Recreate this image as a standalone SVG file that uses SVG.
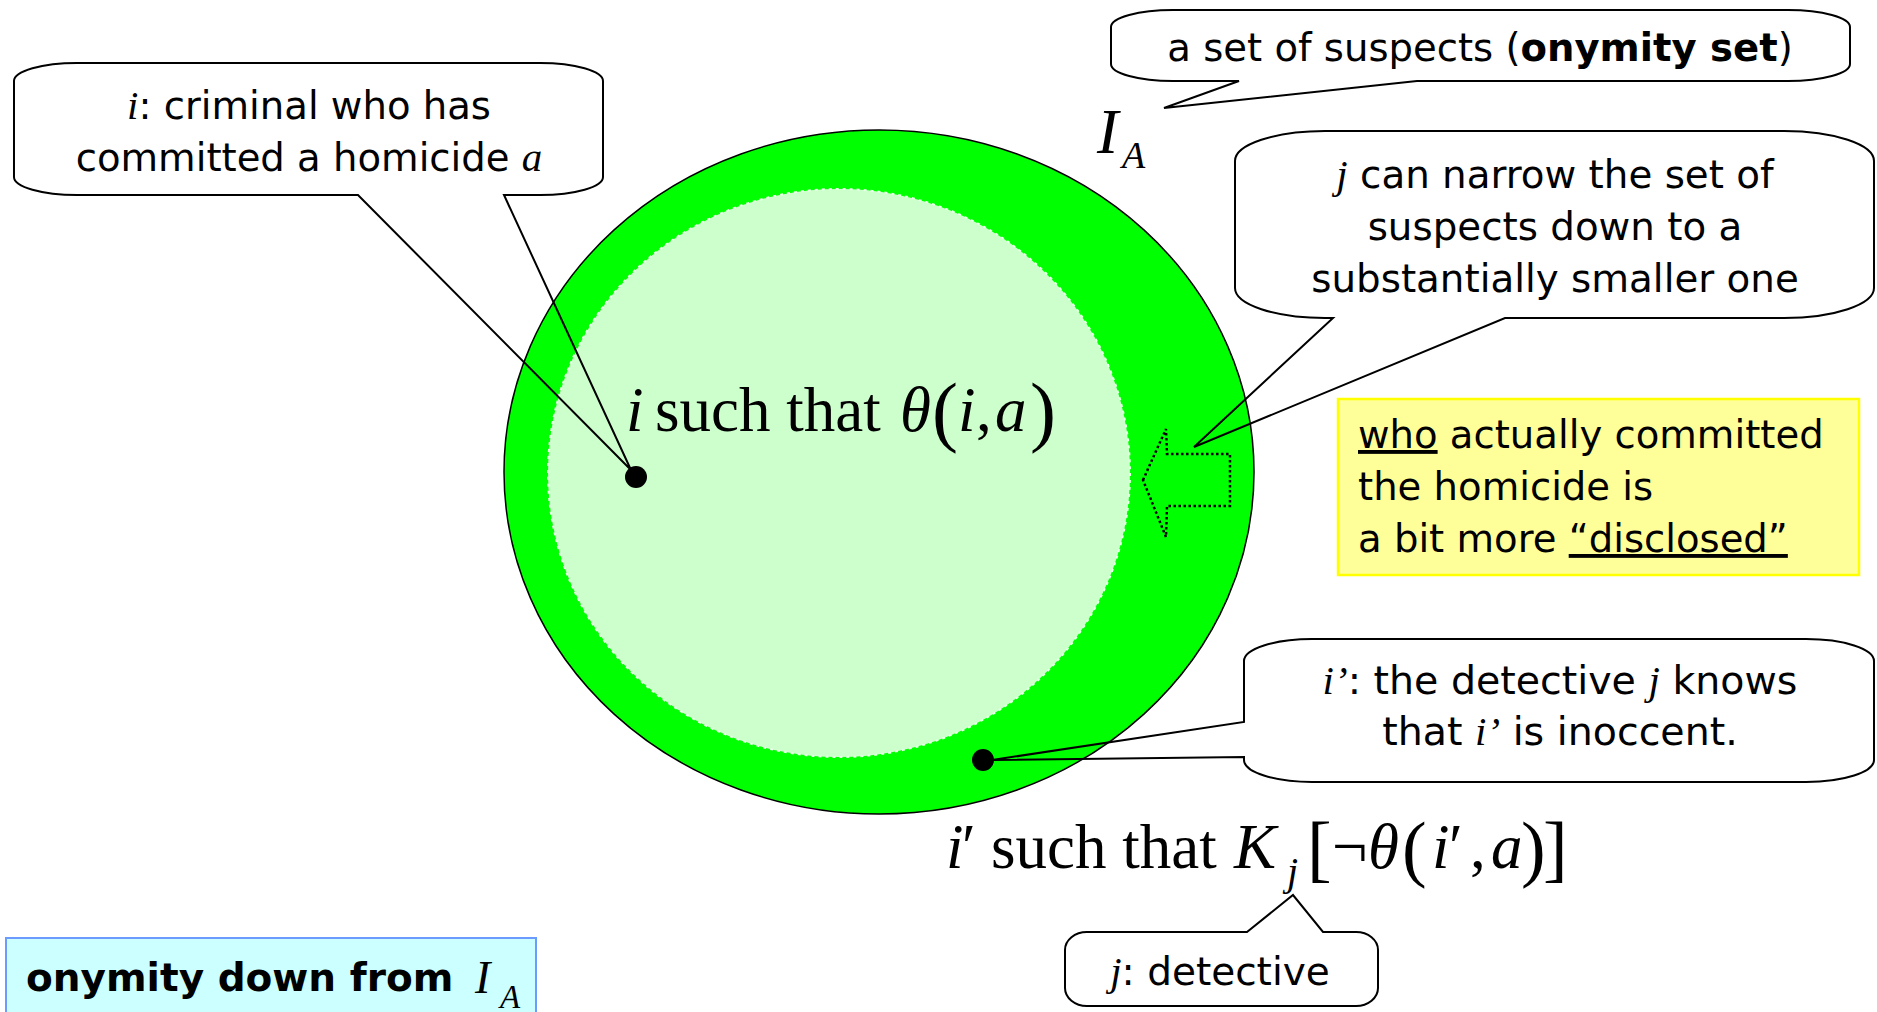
<svg xmlns="http://www.w3.org/2000/svg" width="1877" height="1012" viewBox="0 0 1877 1012">
<style>
.call{fill:none;stroke:#000;stroke-width:2;stroke-linejoin:miter}
.t{font-family:"Comic Sans MS","DejaVu Sans",sans-serif;fill:#000}
.m{font-family:"Liberation Serif","Times New Roman",serif;font-style:italic}
.f{font-family:"Liberation Serif","Times New Roman",serif;fill:#000}
.b{font-weight:bold}
.u{text-decoration:underline}
</style>
<rect width="1877" height="1012" fill="#fff"/>
<g id="onymity-set">
<ellipse cx="879" cy="472" rx="375" ry="342" fill="#00ff00" stroke="#000" stroke-width="1.5"/>
<ellipse cx="839" cy="473" rx="291" ry="284" fill="#ccffcc" stroke="#e6ffe6" stroke-width="2" stroke-dasharray="3 4"/>
</g>
<g id="narrow-arrow">
<polygon points="1143,480 1166,429 1167,454 1230,454 1230,506 1167,506 1166,537" fill="none" stroke="#000" stroke-width="2.5" stroke-dasharray="2.5 2.5"/>
</g>
<g id="formula-i">
<text class="f" y="431" font-size="63"><tspan x="626" class="m">i</tspan><tspan x="655">such that</tspan><tspan x="900" class="m">θ</tspan><tspan x="932" font-size="78" dy="6">(</tspan><tspan x="958" class="m" dy="-6">i</tspan><tspan x="976">,</tspan><tspan x="995" class="m">a</tspan><tspan x="1030" font-size="78" dy="6">)</tspan></text>
</g>
<g id="formula-i-prime">
<text class="f" y="868" font-size="63"><tspan x="946" class="m">i</tspan><tspan x="962">′</tspan><tspan x="991">such that</tspan><tspan x="1234" class="m">K</tspan><tspan x="1287" class="m" font-size="40" dy="17">j</tspan><tspan x="1307" font-size="74" dy="-12">[</tspan><tspan x="1332" dy="-5">¬</tspan><tspan x="1368" class="m">θ</tspan><tspan x="1402" font-size="74" dy="5">(</tspan><tspan x="1432" class="m" dy="-5">i</tspan><tspan x="1449">′</tspan><tspan x="1470">,</tspan><tspan x="1491" class="m">a</tspan><tspan x="1521" font-size="74" dy="5">)</tspan><tspan x="1543" font-size="74">]</tspan></text>
</g>
<g id="label-IA">
<text class="f m" x="1097" y="153" font-size="64">I</text>
<text class="f m" x="1122" y="168" font-size="38">A</text>
</g>
<g id="dot-i"><circle cx="636" cy="477" r="11" fill="#000"/></g>
<g id="dot-i-prime"><circle cx="983" cy="760" r="11" fill="#000"/></g>
<g id="callout-criminal">
<path class="call" d="M77,63 H540 A63,18 0 0 1 603,81 V177 A63,18 0 0 1 540,195 H504 L631,470 L358,195 H77 A63,18 0 0 1 14,177 V81 A63,18 0 0 1 77,63 Z"/>
<text class="t" font-size="38.6" text-anchor="middle"><tspan x="309" y="119"><tspan class="m" font-size="41">i</tspan>: criminal who has</tspan><tspan x="309" y="171">committed a homicide <tspan class="m" font-size="41">a</tspan></tspan></text>
</g>
<g id="callout-suspects">
<path class="call" d="M1173,10 H1788 A62,17 0 0 1 1850,27 V64 A62,17 0 0 1 1788,81 H1417 L1164,108 L1239,81 H1173 A62,17 0 0 1 1111,64 V27 A62,17 0 0 1 1173,10 Z"/>
<text class="t" font-size="38.6" x="1480" y="61" text-anchor="middle">a set of suspects (<tspan class="b">onymity set</tspan>)</text>
</g>
<g id="callout-narrow">
<path class="call" d="M1325,131 H1784 A90,30 0 0 1 1874,161 V288 A90,30 0 0 1 1784,318 H1505 L1194,447 L1333,318 H1325 A90,30 0 0 1 1235,288 V161 A90,30 0 0 1 1325,131 Z"/>
<text class="t" font-size="38.8" text-anchor="middle"><tspan x="1555" y="188"><tspan class="m" font-size="41">j</tspan> can narrow the set of</tspan><tspan x="1555" y="240">suspects down to a</tspan><tspan x="1555" y="292">substantially smaller one</tspan></text>
</g>
<g id="note-disclosed">
<rect x="1338" y="399" width="521" height="176" fill="#ffff99" stroke="#ffff00" stroke-width="2.5"/>
<text class="t" font-size="38.6"><tspan x="1358" y="448"><tspan class="u">who</tspan> actually committed</tspan><tspan x="1358" y="500">the homicide is</tspan><tspan x="1358" y="552">a bit more <tspan class="u">“disclosed”</tspan></tspan></text>
</g>
<g id="callout-innocent">
<path class="call" d="M1312,639 H1806 A68,22 0 0 1 1874,661 V760 A68,22 0 0 1 1806,782 H1312 A68,22 0 0 1 1244,760 V757 L992,760 L1244,722 V661 A68,22 0 0 1 1312,639 Z"/>
<text class="t" font-size="39.5" text-anchor="middle"><tspan x="1560" y="694"><tspan class="m" font-size="41">i’</tspan>: the detective <tspan class="m" font-size="41">j</tspan> knows</tspan><tspan x="1560" y="745">that <tspan class="m" font-size="41">i’</tspan> is inoccent.</tspan></text>
</g>
<g id="callout-detective">
<path class="call" d="M1087,932 H1247 L1293,895 L1323,932 H1356 A22,18 0 0 1 1378,950 V988 A22,18 0 0 1 1356,1006 H1087 A22,18 0 0 1 1065,988 V950 A22,18 0 0 1 1087,932 Z"/>
<text class="t" font-size="39" x="1220" y="985" text-anchor="middle"><tspan class="m" font-size="41">j</tspan>: detective</text>
</g>
<g id="title-box">
<rect x="6" y="938" width="530" height="84" fill="#ccffff" stroke="#6b9bff" stroke-width="2"/>
<text class="t b" font-size="39" x="26" y="991">onymity down from </text>
<text class="f m" x="475" y="993" font-size="46">I</text>
<text class="f m" x="500" y="1008" font-size="33">A</text>
</g>
<g id="connectors"></g>
</svg>
